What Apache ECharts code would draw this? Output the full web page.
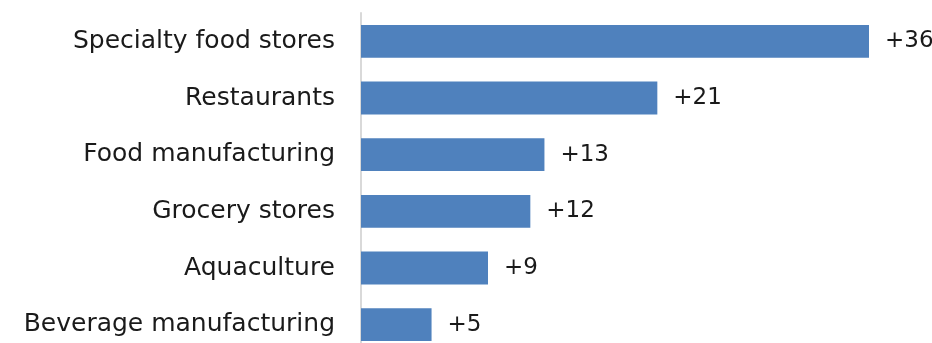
<!DOCTYPE html>
<html><head><meta charset="utf-8">
<script src="https://cdn.jsdelivr.net/npm/echarts@6/dist/echarts.min.js"></script>
<style>html,body{margin:0;padding:0;background:#fff;overflow:hidden}#c{width:932px;height:370px}</style>
</head><body><div id="c"></div>
<script>
const categories = ["Specialty food stores","Restaurants","Food manufacturing","Grocery stores","Aquaculture","Beverage manufacturing"];
const values = [36,21,13,12,9,5];
const FONT = "DejaVu Sans";
const chart = echarts.init(document.getElementById('c'));
chart.setOption({
  animation:false,
  grid:{left:361,top:13,width:508,height:340},
  xAxis:{type:'value',min:0,max:36,show:false},
  yAxis:{type:'category',inverse:true,data:categories,
    axisLine:{show:true,lineStyle:{color:'#d9d9d9',width:2}},
    axisTick:{show:false},
    axisLabel:{margin:26,fontSize:25,color:'#1a1a1a',fontFamily:FONT}},
  series:[{type:'bar',data:values,barCategoryGap:'42%',
    itemStyle:{color:'#4f81bd'},
    label:{show:true,position:'right',distance:16,fontSize:23,color:'#1a1a1a',fontFamily:FONT,
      formatter:p=>'+'+p.value}}]
});
</script></body></html>
